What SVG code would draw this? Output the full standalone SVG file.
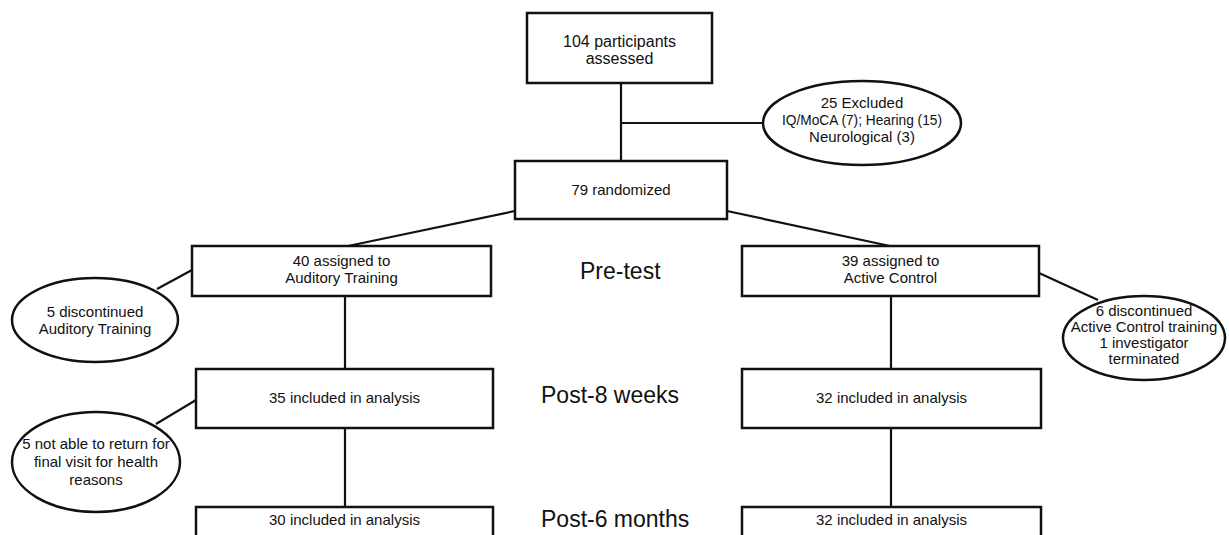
<svg xmlns="http://www.w3.org/2000/svg" width="1229" height="535" viewBox="0 0 1229 535">
<style>
.box{fill:#fff;stroke:#111;stroke-width:2.5}
.ell{fill:#fff;stroke:#111;stroke-width:2.5}
.ln{stroke:#111;stroke-width:2.2;fill:none}
text{font-family:"Liberation Sans",Arial,sans-serif;fill:#111}
.t{font-size:15px;text-anchor:middle}
.lab{font-size:23px}
</style>
<rect width="1229" height="535" fill="#fff"/>
<g id="connectors">
<line class="ln" x1="621" y1="83" x2="621" y2="161"/>
<line class="ln" x1="621" y1="123" x2="763" y2="123"/>
<line class="ln" x1="515" y1="211" x2="348" y2="246"/>
<line class="ln" x1="727" y1="211" x2="890" y2="246"/>
<line class="ln" x1="192" y1="270" x2="157" y2="289"/>
<line class="ln" x1="1039" y1="273" x2="1098" y2="300"/>
<line class="ln" x1="345" y1="296" x2="345" y2="369"/>
<line class="ln" x1="891" y1="296" x2="891" y2="369"/>
<line class="ln" x1="196" y1="400" x2="156" y2="424"/>
<line class="ln" x1="345" y1="428" x2="345" y2="507"/>
<line class="ln" x1="891" y1="428" x2="891" y2="507"/>
</g>
<g id="n-assessed">
<rect class="box" x="527" y="13" width="185" height="70"/>
<text class="t" x="619.5" y="47" style="font-size:16px">104 participants</text>
<text class="t" x="619.5" y="64" style="font-size:16px">assessed</text>
</g>
<g id="n-excluded">
<ellipse class="ell" cx="862" cy="123" rx="99" ry="42"/>
<text class="t" x="862" y="108">25 Excluded</text>
<text class="t" x="862" y="125" textLength="160" lengthAdjust="spacingAndGlyphs">IQ/MoCA (7); Hearing (15)</text>
<text class="t" x="862" y="142">Neurological (3)</text>
</g>
<g id="n-randomized">
<rect class="box" x="515" y="161" width="212" height="58"/>
<text class="t" x="621" y="195">79 randomized</text>
</g>
<g id="n-auditory">
<rect class="box" x="192" y="246" width="299" height="50"/>
<text class="t" x="341.5" y="266">40 assigned to</text>
<text class="t" x="341.5" y="283">Auditory Training</text>
</g>
<g id="n-active">
<rect class="box" x="742" y="246" width="297" height="50"/>
<text class="t" x="890.5" y="266">39 assigned to</text>
<text class="t" x="890.5" y="283">Active Control</text>
</g>
<g id="n-disc-aud">
<ellipse class="ell" cx="95" cy="320" rx="83" ry="42"/>
<text class="t" x="95" y="317">5 discontinued</text>
<text class="t" x="95" y="334">Auditory Training</text>
</g>
<g id="n-disc-act">
<ellipse class="ell" cx="1144" cy="338" rx="81" ry="42"/>
<text class="t" x="1144" y="316">6 discontinued</text>
<text class="t" x="1144" y="332">Active Control training</text>
<text class="t" x="1144" y="348">1 investigator</text>
<text class="t" x="1144" y="364">terminated</text>
</g>
<g id="n-aud-8w">
<rect class="box" x="196" y="369" width="297" height="59"/>
<text class="t" x="344.5" y="403">35 included in analysis</text>
</g>
<g id="n-act-8w">
<rect class="box" x="742" y="369" width="299" height="59"/>
<text class="t" x="891.5" y="403">32 included in analysis</text>
</g>
<g id="n-health">
<ellipse class="ell" cx="96" cy="462" rx="84" ry="50"/>
<text class="t" x="96" y="449">5 not able to return for</text>
<text class="t" x="96" y="467">final visit for health</text>
<text class="t" x="96" y="485">reasons</text>
</g>
<g id="n-aud-6m">
<rect class="box" x="196" y="507" width="297" height="40"/>
<text class="t" x="344.5" y="525">30 included in analysis</text>
</g>
<g id="n-act-6m">
<rect class="box" x="742" y="507" width="299" height="40"/>
<text class="t" x="891.5" y="525">32 included in analysis</text>
</g>
<g id="labels">
<text class="lab" x="580" y="279">Pre-test</text>
<text class="lab" x="541" y="403">Post-8 weeks</text>
<text class="lab" x="541" y="527">Post-6 months</text>
</g>
</svg>
